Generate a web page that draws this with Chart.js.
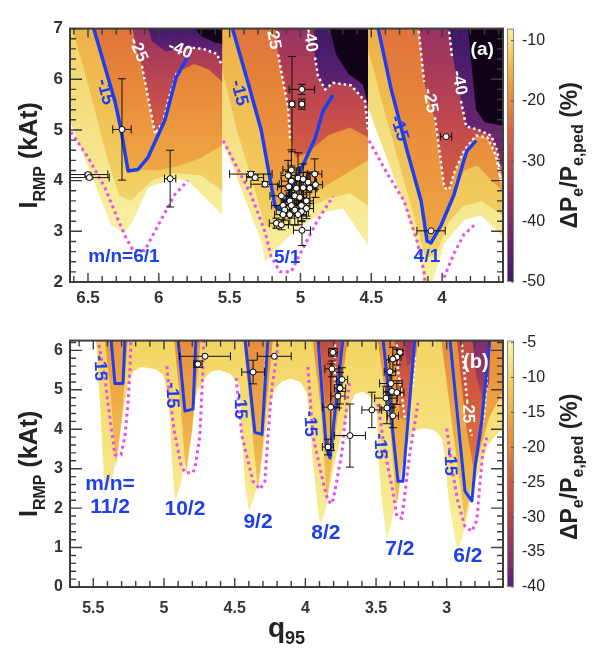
<!DOCTYPE html>
<html>
<head>
<meta charset="utf-8">
<script src="https://cdn.jsdelivr.net/npm/chart.js@4.4.1/dist/chart.umd.min.js"></script>
<style>
  body { margin: 0; background: #fff; width: 602px; height: 652px; overflow: hidden; position: relative; }
  canvas { position: absolute; left: 0; }
  #panelA { top: 0; }
  #panelB { top: 312px; }
</style>
</head>
<body>
<canvas id="panelA" width="602" height="312"></canvas>
<canvas id="panelB" width="602" height="340"></canvas>
<script>
// Reduccion de presion de pedestal vs q95 e I_RMP: panel (a) n=1, panel (b) n=2

const FONT = '"Liberation Sans", Arial, Helvetica, sans-serif';
const BLUE = '#1d3fee';
const MAGENTA = '#e84fe6';

// ---------- panel (a) ----------
const qRangeA = [3.57, 6.627];
const iRangeA = [2, 7];
const xTicksA = [6.5, 6, 5.5, 5, 4.5, 4];
const yTicksA = [2, 3, 4, 5, 6, 7];
const cbRangeA = [-50, -8];
const cbTicksA = [-10, -20, -30, -40, -50];

// contour regions, [q95, I_RMP]
const out61 = [[6.7,7.1],[5.553,7.1],[5.553,3.33],[5.794,4.0],[5.914,4.04],[6.076,3.86],[6.18,3.23],[6.24,2.96],[6.337,3.12],[6.7,5.7]];
const out51 = [[5.553,7.1],[4.523,7.1],[4.523,2.72],[4.699,3.45],[4.826,3.38],[4.996,3.12],[5.137,2.75],[5.25,2.39],[5.278,2.81],[5.553,4.83]];
const out41 = [[4.523,7.1],[3.5,7.1],[3.5,2.85],[3.57,2.9],[3.725,3.31],[3.845,3.23],[3.986,2.75],[4.078,1.9],[4.127,1.9],[4.162,2.57],[4.247,3.36],[4.41,4.59],[4.523,5.44]];
const b12_61 = [[6.62,7.1],[6.5,5.9],[6.36,4.4],[6.28,3.7],[6.2,3.6],[6.05,4.0],[5.9,4.15],[5.7,4.1],[5.553,3.8],[5.553,7.1]];
const b12_51 = [[5.553,7.1],[5.553,6.2],[5.45,5.0],[5.33,3.9],[5.25,3.1],[5.15,3.05],[5.0,3.4],[4.8,3.65],[4.65,3.75],[4.523,3.5],[4.523,7.1]];
const b12_41 = [[4.523,7.1],[4.523,6.6],[4.42,5.5],[4.3,4.3],[4.2,3.3],[4.12,2.5],[4.05,2.5],[3.95,3.2],[3.85,3.5],[3.72,3.6],[3.57,3.3],[3.5,3.3],[3.5,7.1]];
const b15_61 = [[6.47,7.1],[6.31,5.57],[6.267,5.01],[6.217,4.19],[6.147,4.22],[6.0,4.2],[5.85,4.3],[5.7,4.45],[5.553,4.7],[5.553,7.1]];
const b15_51 = [[5.49,7.1],[5.37,5.93],[5.278,5.01],[5.179,3.49],[5.137,3.42],[5.0,3.6],[4.85,3.85],[4.7,4.1],[4.523,4.4],[4.523,7.1]];
const b15_41 = [[4.459,7.1],[4.36,5.81],[4.247,4.59],[4.148,3.6],[4.106,2.81],[4.078,2.77],[4.007,3.12],[3.915,3.73],[3.845,4.2],[3.75,4.3],[3.65,4.0],[3.5,3.6],[3.5,7.1]];
const b25_61 = [[6.19,7.1],[6.16,6.6],[6.119,6.26],[6.062,5.44],[6.027,4.92],[5.97,5.16],[5.92,5.71],[5.871,6.14],[5.75,6.3],[5.65,6.2],[5.553,5.95],[5.553,7.1]];
const b25_51 = [[5.18,7.1],[5.158,6.49],[5.087,5.44],[5.073,4.83],[5.03,4.45],[4.95,4.55],[4.8,4.9],[4.65,5.05],[4.523,4.85],[4.523,7.1]];
const b25_41 = [[4.165,7.1],[4.127,5.93],[4.056,5.25],[3.985,3.86],[3.95,3.82],[3.915,4.15],[3.845,4.59],[3.76,4.89],[3.68,4.85],[3.62,4.5],[3.585,4.0],[3.5,3.9],[3.5,7.1]];
const b40_61 = [[6.08,7.1],[6.05,6.75],[5.95,6.55],[5.85,6.6],[5.80,6.63],[5.687,6.6],[5.59,6.5],[5.553,6.26],[5.553,7.1]];
const b40_51 = [[4.91,7.1],[4.897,6.43],[4.876,6.06],[4.826,5.8],[4.77,5.93],[4.643,5.88],[4.544,5.57],[4.523,5.01],[4.523,7.1]];
const b40_41 = [[3.96,7.1],[3.95,6.94],[3.915,6.3],[3.866,5.57],[3.83,5.07],[3.753,5.01],[3.654,4.89],[3.61,4.59],[3.59,4.3],[3.5,4.2],[3.5,7.1]];
const blk61 = [[5.78,7.1],[5.70,6.85],[5.6,6.72],[5.553,6.7],[5.553,7.1]];
const blk51 = [[4.80,7.1],[4.75,6.5],[4.66,6.1],[4.56,5.9],[4.523,5.5],[4.523,7.1]];
const blk41 = [[3.82,7.1],[3.79,6.2],[3.76,5.4],[3.70,5.15],[3.5,5.05],[3.5,7.1]];

// contour lines
const blue61 = [[6.47,7.1],[6.31,5.57],[6.267,5.01],[6.217,4.19],[6.147,4.22],[6.076,4.46],[5.956,5.2],[5.878,6.03],[5.794,6.45]];
const blue51 = [[5.49,7.1],[5.37,5.93],[5.278,5.01],[5.179,3.49],[5.137,3.42],[4.996,4.22],[4.897,4.83],[4.84,5.38],[4.77,5.69]];
const blue41 = [[4.459,7.1],[4.36,5.81],[4.247,4.59],[4.148,3.6],[4.106,2.81],[4.078,2.77],[4.007,3.12],[3.915,3.73],[3.845,4.41],[3.824,4.59],[3.76,4.79]];
const mag61 = [[6.62,4.96],[6.50,4.46],[6.38,3.86],[6.288,3.23],[6.23,2.86],[6.18,2.62],[6.10,2.62],[5.984,3.23],[5.886,3.73],[5.794,4.0]];
const mag51 = [[5.546,4.79],[5.44,4.22],[5.35,3.73],[5.25,2.99],[5.207,2.5],[5.144,2.2],[5.066,2.2],[4.967,2.75],[4.876,3.23],[4.77,3.69]];
const mag41 = [[4.516,4.79],[4.39,4.15],[4.268,3.6],[4.177,2.81],[4.127,2.2],[4.115,1.8],[4.0,1.8],[3.999,2.0],[3.915,2.57],[3.845,2.94],[3.774,3.12]];
const w25_61 = [[6.119,6.26],[6.062,5.44],[6.027,4.92],[5.97,5.16],[5.92,5.71],[5.871,6.14]];
const w40_61 = [[5.80,6.63],[5.687,6.6],[5.59,6.5],[5.553,6.26]];
const w25_51 = [[5.158,6.49],[5.087,5.44],[5.073,4.83]];
const w40_51 = [[4.897,6.43],[4.876,6.06],[4.826,5.8],[4.77,5.93],[4.643,5.88],[4.544,5.57],[4.523,5.01]];
const w25_41a = [[4.165,6.95],[4.127,5.95]];
const w25_41b = [[4.05,5.25],[3.985,3.86],[3.95,3.82],[3.915,4.15],[3.845,4.59],[3.76,4.89],[3.68,4.85],[3.62,4.5],[3.585,4.0]];
const w40_41a = [[3.95,6.94],[3.93,6.45]];
const w40_41b = [[3.866,5.57],[3.83,5.07],[3.753,5.01],[3.654,4.89],[3.61,4.59],[3.584,3.97]];

// measurements [q95, I_RMP, dq, dI]
const shots61 = [[6.26,5.01,0.065,1.0],[6.50,4.12,0.14,0.03],[6.49,4.06,0.14,0.03],[5.92,4.04,0.04,0.56]];
const shots51 = [
  [4.99,5.80,0.09,0.1],[5.06,5.51,0.02,0.94],[4.99,5.51,0.02,0.1],
  [5.35,4.13,0.15,0.05],[5.32,4.06,0.06,0.05],[5.25,3.93,0.1,0.05],
  [5.064,4.21,0.06,0.4],[5.087,4.10,0.05,0.3],[5.017,4.05,0.06,0.5],[4.981,4.03,0.05,0.3],
  [5.064,3.99,0.07,0.3],[4.946,3.97,0.06,0.2],[4.899,4.13,0.05,0.3],[4.894,3.92,0.05,0.25],
  [5.082,3.88,0.08,0.3],[5.029,3.85,0.05,0.4],[4.981,3.86,0.06,0.3],[4.934,3.85,0.05,0.3],
  [5.135,3.70,0.08,0.2],[5.04,3.70,0.06,0.3],[5.005,3.67,0.05,0.35],[5.075,3.60,0.06,0.3],
  [4.958,3.60,0.05,0.3],[5.123,3.51,0.08,0.2],[5.064,3.51,0.06,0.25],[4.993,3.51,0.06,0.3],
  [4.958,3.45,0.05,0.2],[5.111,3.42,0.06,0.2],[5.04,3.42,0.06,0.3],[4.993,3.39,0.05,0.2],
  [5.123,3.33,0.06,0.2],[5.075,3.33,0.05,0.2],[5.017,3.33,0.06,0.2],[5.17,3.16,0.05,0.1],
  [5.135,3.13,0.05,0.1],[4.989,3.02,0.06,0.3]
];
const shots41 = [[3.972,4.87,0.04,0],[4.078,3.01,0.1,0]];

// ---------- panel (b) ----------
const qRangeB = [2.602, 5.665];
const iRangeB = [0, 6.248];
const xTicksB = [5.5, 5, 4.5, 4, 3.5, 3];
const yTicksB = [0, 1, 2, 3, 4, 5, 6];
const cbRangeB = [-40, -4.72];
const cbTicksB = [-5, -10, -15, -20, -25, -30, -35, -40];

const outB = [[5.481,6.3],[2.55,6.3],[2.55,4.05],
  [2.638,3.92],[2.709,3.6],[2.751,3.17],[2.801,2.6],[2.85,1.86],[2.893,1.19],[2.928,0.94],
  [2.956,1.54],[2.992,2.36],[3.006,3.17],[3.034,3.77],[3.084,3.97],[3.154,4.02],[3.204,4.0],
  [3.246,3.92],[3.296,3.42],[3.345,2.6],[3.388,1.69],[3.423,1.19],[3.459,2.18],[3.487,3.42],[3.494,4.41],
  [3.53,4.79],[3.593,4.96],[3.65,4.88],[3.685,4.6],[3.734,4.0],[3.777,3.42],[3.826,2.6],[3.862,1.86],[3.897,1.61],
  [3.918,2.18],[3.954,3.42],[3.968,4.26],[3.989,4.91],[4.038,5.21],[4.109,5.28],[4.166,5.21],
  [4.215,5.03],[4.25,4.66],[4.286,3.84],[4.321,2.85],[4.371,2.18],[4.399,1.93],
  [4.427,2.6],[4.449,3.84],[4.463,5.08],[4.484,5.21],[4.533,5.41],[4.604,5.5],[4.66,5.47],[4.70,5.35],
  [4.76,5.01],[4.81,4.26],[4.852,3.17],[4.887,2.53],[4.922,2.18],
  [4.944,3.17],[4.958,4.26],[4.979,5.01],[5.007,5.38],[5.064,5.53],[5.163,5.58],[5.22,5.46],
  [5.255,5.16],[5.29,4.41],[5.326,3.6],[5.361,2.85],[5.396,2.53],[5.417,2.43],
  [5.432,3.17],[5.453,4.66]];
const o112 = [[5.42,6.3],[5.38,5.0],[5.34,3.03],[5.30,4.2],[5.255,6.3]];
const o102 = [[4.93,6.3],[4.88,4.5],[4.845,2.85],[4.80,4.0],[4.74,6.3]];
const o92 = [[4.44,6.3],[4.39,4.5],[4.335,2.43],[4.29,4.0],[4.23,6.3]];
const o82 = [[3.95,6.3],[3.89,4.5],[3.847,2.18],[3.79,3.8],[3.70,6.3]];
const o72 = [[3.49,6.3],[3.40,4.0],[3.353,2.03],[3.29,3.8],[3.20,6.3]];
const o62 = [[3.04,6.3],[2.95,3.8],[2.872,1.69],[2.80,3.0],[2.70,4.3],[2.55,5.3],[2.55,6.3]];
const r82 = [[3.90,6.3],[3.86,4.6],[3.80,4.5],[3.74,6.3]];
const r72 = [[3.37,6.3],[3.33,4.3],[3.27,4.2],[3.225,6.3]];
const r62 = [[2.93,6.3],[2.86,4.0],[2.80,2.8],[2.75,3.9],[2.70,6.3]];
const p72 = [[3.31,6.3],[3.28,5.6],[3.24,5.7],[3.235,6.3]];
const p62 = [[2.82,6.3],[2.79,5.3],[2.74,4.7],[2.70,5.2],[2.69,6.3]];

const blue112 = [[5.375,6.3],[5.347,5.16],[5.29,5.16],[5.276,6.3]];
const blue102 = [[4.901,6.3],[4.852,4.46],[4.795,4.51],[4.774,6.3]];
const blue92 = [[4.427,6.3],[4.357,3.92],[4.307,3.87],[4.265,6.3]];
const blue82 = [[3.911,6.3],[3.852,3.52],[3.826,3.27],[3.734,6.3]];
const blue72 = [[3.451,6.3],[3.345,2.68],[3.31,2.68],[3.225,6.3]];
const blue62 = [[2.978,6.3],[2.871,2.43],[2.822,2.18],[2.80,3.03],[2.751,4.26],[2.695,6.3]];
const mag112 = [[5.467,6.3],[5.417,5.26],[5.382,4.26],[5.347,3.35],[5.304,3.35],[5.276,3.84],[5.255,4.66],[5.241,5.5],[5.234,6.3]];
const mag102 = [[4.98,5.6],[4.965,5.0],[4.93,4.0],[4.88,3.1],[4.852,2.9],[4.795,2.9],[4.78,3.03],[4.746,3.84],[4.725,5.5],[4.72,6.3]];
const mag92 = [[4.49,5.3],[4.449,3.84],[4.371,2.68],[4.321,2.48],[4.286,2.68],[4.265,3.84],[4.236,5.08],[4.201,5.9],[4.194,6.3]];
const mag82 = [[3.982,5.58],[3.947,3.84],[3.876,2.68],[3.84,2.18],[3.812,2.11],[3.791,2.43],[3.741,3.42],[3.706,4.66],[3.685,5.26]];
const mag72 = [[3.487,4.64],[3.437,3.42],[3.381,2.43],[3.353,1.79],[3.317,1.74],[3.296,2.36],[3.261,3.42],[3.225,4.17],[3.204,4.66]];
const mag62 = [[3.0,4.02],[2.964,3.03],[2.922,2.18],[2.872,1.54],[2.822,1.41],[2.787,1.69],[2.766,2.6],[2.744,3.42],[2.716,3.79]];
const w92 = [[4.272,6.07],[4.286,5.41]];
const w82 = [[3.791,6.15],[3.791,5.08]];
const w72a = [[3.353,6.15],[3.345,5.5],[3.317,4.84],[3.296,4.26]];
const w72b = [[3.225,5.83],[3.24,5.08]];
const w62a = [[2.893,6.15],[2.871,5.26],[2.858,4.84]];
const w62b = [[2.836,4.0],[2.822,3.84]];
const w62c = [[2.716,5.33],[2.73,4.59],[2.74,4.2]];

const shots102 = [[4.71,5.85,0.18,0],[4.76,5.65,0.03,0.08]];
const shots92 = [[4.22,5.85,0.12,0],[4.37,5.45,0.08,0.3]];
const shots82 = [[3.805,5.95,0.03,0.1],[3.812,5.53,0.05,0.2],[3.741,5.26,0.04,0.3],[3.755,5.04,0.04,0.4],
  [3.77,4.84,0.05,0.3],[3.82,4.56,0.06,1.1],[3.84,3.55,0.04,0.2],[3.685,3.84,0.11,0.8]];
const shots72 = [[3.331,5.95,0.02,0.05],[3.353,5.83,0.03,0.2],[3.381,5.78,0.03,0.3],[3.402,5.46,0.04,0.3],
  [3.395,5.16,0.08,0.3],[3.388,4.96,0.06,0.4],[3.353,4.93,0.05,0.3],[3.43,4.79,0.08,0.3],
  [3.423,4.54,0.05,0.4],[3.381,4.34,0.04,0.3],[3.53,4.49,0.07,0.45]];

// colour maps of the two colour bars [value, colour]
const cmapA = [[-56,'#120418'],[-50,'#3a1868'],[-45,'#5e2170'],[-40,'#862b68'],[-35,'#a83a5a'],[-30,'#c44c4c'],
  [-25,'#d9643c'],[-20,'#e8883a'],[-15,'#efb048'],[-12,'#f2cd60'],[-8,'#f7f1a2']];
const cmapB = [[-40,'#5a2278'],[-35,'#8e3266'],[-30,'#b4454f'],[-25,'#d05a40'],[-20,'#e5843a'],
  [-15,'#eeac45'],[-10,'#f3d462'],[-5,'#f8f4a6']];

// text on the plots [text, q95, I_RMP, rotation deg, colour, size]
const notesA = [
  ['m/n=6/1', 6.246, 2.50, 0, BLUE, 19], ['5/1', 5.094, 2.48, 0, BLUE, 19], ['4/1', 4.106, 2.50, 0, BLUE, 19],
  ['-15', 6.38, 5.75, 76, BLUE, 18], ['-15', 5.434, 5.73, 76, BLUE, 18], ['-15', 4.304, 5.03, 72, BLUE, 18],
  ['-25', 6.147, 6.58, 66, '#fff', 17], ['-25', 5.193, 6.83, 80, '#fff', 17], ['-25', 4.085, 5.58, 80, '#fff', 17],
  ['-40', 5.85, 6.58, 22, '#fff', 17], ['-40', 4.932, 6.78, 82, '#fff', 17], ['-40', 3.88, 5.93, 80, '#fff', 17],
  ['(a)', 3.717, 6.58, 0, '#fff', 19]
];
const notesB = [
  ['m/n=', 5.382, 2.60, 0, BLUE, 21], ['11/2', 5.382, 2.03, 0, BLUE, 21], ['10/2', 4.852, 1.98, 0, BLUE, 21],
  ['9/2', 4.335, 1.64, 0, BLUE, 21], ['8/2', 3.855, 1.36, 0, BLUE, 21], ['7/2', 3.331, 0.97, 0, BLUE, 21],
  ['6/2', 2.85, 0.77, 0, BLUE, 21],
  ['-15', 5.453, 5.55, 88, BLUE, 18], ['-15', 4.944, 4.86, 88, BLUE, 18], ['-15', 4.463, 4.59, 88, BLUE, 18],
  ['-15', 3.968, 4.14, 88, BLUE, 18], ['-15', 3.473, 3.57, 88, BLUE, 18], ['-15', 2.978, 3.15, 88, BLUE, 18],
  ['-25', 2.85, 4.46, 88, '#fff', 17], ['(b)', 2.794, 5.70, 0, '#fff', 20]
];

// ---------- helpers ----------
const toXY = arr => arr.map(([x, y]) => ({x, y}));

function hexRgb(h) { return [1, 3, 5].map(i => parseInt(h.slice(i, i + 2), 16)); }

function colorAt(stops, v) {
  if (v <= stops[0][0]) return stops[0][1];
  for (let i = 1; i < stops.length; i++) {
    if (v <= stops[i][0]) {
      const [v0, c0] = stops[i - 1], [v1, c1] = stops[i];
      const t = (v - v0) / (v1 - v0), a = hexRgb(c0), b = hexRgb(c1);
      return 'rgb(' + a.map((c, k) => Math.round(c + (b[k] - c) * t)).join(',') + ')';
    }
  }
  return stops[stops.length - 1][1];
}

function shade(chart, poly, stops, vA, vB, axis) {
  const {x, y} = chart.scales;
  if (!chart.chartArea || !x || !y) return colorAt(stops, vA);
  const px = poly.map(p => x.getPixelForValue(p[0]));
  const py = poly.map(p => y.getPixelForValue(p[1]));
  const g = axis === 'x'
    ? chart.ctx.createLinearGradient(Math.min(...px), 0, Math.max(...px), 0)
    : chart.ctx.createLinearGradient(0, Math.max(...py), 0, Math.min(...py));
  for (let i = 0; i <= 10; i++) g.addColorStop(i / 10, colorAt(stops, vA + (vB - vA) * i / 10));
  return g;
}

function band(poly, stops, vA, vB, axis, order) {
  return {
    data: toXY(poly), xAxisID: 'x', yAxisID: 'y', fill: 'shape', showLine: true, tension: 0,
    pointRadius: 0, borderWidth: 0, borderColor: 'rgba(0,0,0,0)', order,
    backgroundColor: c => shade(c.chart, poly, stops, vA, vB, axis)
  };
}

function curve(line, color, width, dash, order) {
  return {
    data: toXY(line), xAxisID: 'x', yAxisID: 'y', fill: false, showLine: true, tension: 0,
    pointRadius: 0, borderColor: color, borderWidth: width, borderDash: dash,
    borderCapStyle: 'butt', borderJoinStyle: 'round', order
  };
}

function shots(list, order) {
  return {
    data: list.map(([x, y, ex, ey]) => ({x, y, ex, ey})), xAxisID: 'x', yAxisID: 'y',
    showLine: false, fill: false, pointRadius: 3, pointBackgroundColor: '#fff',
    pointBorderColor: '#000', pointBorderWidth: 1, order, errorBars: true
  };
}

function richText(ctx, parts, x, y, rot) {
  ctx.save();
  ctx.translate(x, y);
  ctx.rotate(rot);
  ctx.textAlign = 'left';
  ctx.textBaseline = 'alphabetic';
  let w = 0;
  parts.forEach(p => { ctx.font = `bold ${p[1]}px ${FONT}`; w += ctx.measureText(p[0]).width; });
  let cx = -w / 2;
  parts.forEach(p => {
    ctx.font = `bold ${p[1]}px ${FONT}`;
    ctx.fillText(p[0], cx, p[2]);
    cx += ctx.measureText(p[0]).width;
  });
  ctx.restore();
}

// ---------- plugins ----------
const errorBars = {
  id: 'errorBars',
  beforeDatasetDraw(chart, args) {
    const ds = chart.data.datasets[args.index];
    if (!ds.errorBars) return;
    const {ctx, chartArea: a} = chart;
    const {x, y} = chart.scales;
    ctx.save();
    ctx.beginPath();
    ctx.rect(a.left, a.top, a.width, a.height);
    ctx.clip();
    ctx.strokeStyle = '#111';
    ctx.lineWidth = 1;
    ctx.beginPath();
    ds.data.forEach(p => {
      const cx = x.getPixelForValue(p.x), cy = y.getPixelForValue(p.y);
      if (p.ex) {
        const l = x.getPixelForValue(p.x + p.ex), r = x.getPixelForValue(p.x - p.ex);
        ctx.moveTo(l, cy); ctx.lineTo(r, cy);
        ctx.moveTo(l, cy - 4); ctx.lineTo(l, cy + 4);
        ctx.moveTo(r, cy - 4); ctx.lineTo(r, cy + 4);
      }
      if (p.ey) {
        const t = y.getPixelForValue(p.y + p.ey), b = y.getPixelForValue(p.y - p.ey);
        ctx.moveTo(cx, t); ctx.lineTo(cx, b);
        ctx.moveTo(cx - 4, t); ctx.lineTo(cx + 4, t);
        ctx.moveTo(cx - 4, b); ctx.lineTo(cx + 4, b);
      }
    });
    ctx.stroke();
    ctx.restore();
  }
};

const notes = {
  id: 'notes',
  afterDatasetsDraw(chart, args, o) {
    const {ctx, chartArea: a} = chart;
    const {x, y} = chart.scales;
    ctx.save();
    ctx.beginPath();
    ctx.rect(a.left, a.top, a.width, a.height);
    ctx.clip();
    ctx.textAlign = 'center';
    ctx.textBaseline = 'middle';
    o.list.forEach(([txt, q, i, rot, color, size]) => {
      ctx.save();
      ctx.translate(x.getPixelForValue(q), y.getPixelForValue(i));
      ctx.rotate(rot * Math.PI / 180);
      ctx.font = `bold ${size}px ${FONT}`;
      ctx.fillStyle = color;
      ctx.fillText(txt, 0, 0);
      ctx.restore();
    });
    ctx.restore();
  }
};

const frame = {
  id: 'frame',
  afterDraw(chart) {
    const {ctx, chartArea: a} = chart;
    const {x, y} = chart.scales;
    ctx.save();
    ctx.strokeStyle = '#3c3c3c';
    ctx.lineWidth = 1.4;
    ctx.beginPath();
    const lo = Math.min(x.min, x.max), hi = Math.max(x.min, x.max);
    for (let k = Math.ceil(lo * 10 - 1e-6); k <= Math.floor(hi * 10 + 1e-6); k++) {
      const px = x.getPixelForValue(k / 10);
      const len = k % 5 === 0 ? 9 : 6;
      ctx.moveTo(px, a.bottom); ctx.lineTo(px, a.bottom - len);
      ctx.moveTo(px, a.top); ctx.lineTo(px, a.top + len);
    }
    for (let k = Math.ceil(y.min * 5 - 1e-6); k <= Math.floor(y.max * 5 + 1e-6); k++) {
      const py = y.getPixelForValue(k / 5);
      const len = k % 5 === 0 ? 12 : 6;
      ctx.moveTo(a.left, py); ctx.lineTo(a.left + len, py);
      ctx.moveTo(a.right, py); ctx.lineTo(a.right - len, py);
    }
    ctx.stroke();
    ctx.lineWidth = 2;
    ctx.strokeRect(a.left, a.top, a.width, a.height);
    ctx.restore();
  }
};

const colorbar = {
  id: 'colorbar',
  afterDraw(chart, args, o) {
    const {ctx, chartArea: a} = chart;
    const cb = chart.scales.cb;
    const x0 = a.right + 4, w = 7;
    const g = ctx.createLinearGradient(0, a.bottom, 0, a.top);
    o.stops.forEach(([v, c]) => {
      const t = (v - cb.min) / (cb.max - cb.min);
      if (t >= 0 && t <= 1) g.addColorStop(t, c);
    });
    g.addColorStop(1, colorAt(o.stops, cb.max));
    ctx.save();
    ctx.fillStyle = g;
    ctx.fillRect(x0, a.top, w, a.height);
    ctx.strokeStyle = '#888';
    ctx.lineWidth = 1;
    ctx.strokeRect(x0 + 0.5, a.top + 0.5, w - 1, a.height - 1);
    ctx.strokeStyle = '#555';
    ctx.beginPath();
    cb.ticks.forEach(t => {
      const py = cb.getPixelForValue(t.value);
      ctx.moveTo(x0 + w - 3, py); ctx.lineTo(x0 + w, py);
    });
    ctx.stroke();
    ctx.fillStyle = '#222';
    const cy = (a.top + a.bottom) / 2 + o.shift;
    richText(ctx, [['ΔP', 23, 0], ['e', 16, 6], ['/P', 23, 0], ['e,ped', 16, 6], [' (%)', 23, 0]], 577, cy, -Math.PI / 2);
    richText(ctx, [['I', 25, 0], ['RMP', 16, 8], [' (kAt)', 25, 0]], 37, (a.top + a.bottom) / 2, -Math.PI / 2);
    if (o.xTitleY) richText(ctx, [['q', 28, 0], ['95', 18, 7]], (a.left + a.right) / 2, o.xTitleY, 0);
    ctx.restore();
  }
};

function axes(qr, ir, cbr, xt, yt, ct, xh, xpad, fs) {
  const tickFont = {family: FONT, size: fs, weight: 'bold'};
  const setTicks = list => s => { s.ticks = list.map(v => ({value: v})); };
  return {
    x: {
      type: 'linear', min: qr[0], max: qr[1], reverse: true,
      afterBuildTicks: setTicks(xt), afterFit: s => { s.height = xh; },
      grid: {display: false, drawTicks: false}, border: {display: false},
      ticks: {padding: xpad, color: '#333', font: tickFont, maxRotation: 0, autoSkip: false, callback: v => String(v)}
    },
    y: {
      type: 'linear', position: 'left', min: ir[0], max: ir[1],
      afterBuildTicks: setTicks(yt), afterFit: s => { s.width = 70; },
      grid: {display: false, drawTicks: false}, border: {display: false},
      ticks: {padding: 7, color: '#333', font: tickFont, autoSkip: false, callback: v => String(v)}
    },
    cb: {
      type: 'linear', axis: 'y', position: 'right', min: cbr[0], max: cbr[1],
      afterBuildTicks: setTicks(ct), afterFit: s => { s.width = 99; },
      grid: {display: false, drawTicks: false}, border: {display: false},
      ticks: {padding: 19, color: '#222', font: {family: FONT, size: 16}, autoSkip: false, callback: v => String(v)}
    }
  };
}

function makeChart(id, datasets, scales, padTop, noteList, cbOpts) {
  return new Chart(document.getElementById(id), {
    type: 'line',
    data: {datasets},
    options: {
      responsive: false, animation: false, devicePixelRatio: 1, events: [],
      layout: {padding: {top: padTop, left: 0, right: 0, bottom: 0}, autoPadding: false},
      plugins: {legend: {display: false}, tooltip: {enabled: false}, notes: {list: noteList}, colorbar: cbOpts},
      scales
    },
    plugins: [errorBars, notes, frame, colorbar]
  });
}

// ---------- panel (a) ----------
const setsA = [
  band(out61, cmapA, -8, -11.5, 'y', 90), band(out51, cmapA, -8, -11.5, 'y', 90), band(out41, cmapA, -8, -11.5, 'y', 90),
  band(b12_61, cmapA, -11.5, -15, 'y', 85), band(b12_51, cmapA, -11.5, -15, 'y', 85), band(b12_41, cmapA, -11.5, -15, 'y', 85),
  band(b15_61, cmapA, -16, -23, 'y', 80), band(b15_51, cmapA, -16, -23, 'y', 80), band(b15_41, cmapA, -16, -23, 'y', 80),
  band(b25_61, cmapA, -26, -38, 'y', 70), band(b25_51, cmapA, -26, -38, 'y', 70), band(b25_41, cmapA, -26, -38, 'y', 70),
  band(b40_61, cmapA, -41, -50, 'y', 60), band(b40_51, cmapA, -41, -50, 'y', 60), band(b40_41, cmapA, -41, -50, 'y', 60),
  band(blk61, cmapA, -56, -56, 'y', 50), band(blk51, cmapA, -56, -56, 'y', 50), band(blk41, cmapA, -56, -56, 'y', 50),
  curve(mag61, MAGENTA, 3, [3, 3.5], 30), curve(mag51, MAGENTA, 3, [3, 3.5], 30), curve(mag41, MAGENTA, 3, [3, 3.5], 30),
  curve(w25_61, '#fff', 2.5, [2.5, 3], 30), curve(w40_61, '#fff', 2.5, [2.5, 3], 30),
  curve(w25_51, '#fff', 2.5, [2.5, 3], 30), curve(w40_51, '#fff', 2.5, [2.5, 3], 30),
  curve(w25_41a, '#fff', 2.5, [2.5, 3], 30), curve(w25_41b, '#fff', 2.5, [2.5, 3], 30),
  curve(w40_41a, '#fff', 2.5, [2.5, 3], 30), curve(w40_41b, '#fff', 2.5, [2.5, 3], 30),
  curve(blue61, BLUE, 3.5, [], 20), curve(blue51, BLUE, 3.5, [], 20), curve(blue41, BLUE, 3.5, [], 20),
  shots(shots61, 10), shots(shots51, 10), shots(shots41, 10)
];
makeChart('panelA', setsA,
  axes(qRangeA, iRangeA, cbRangeA, xTicksA, yTicksA, cbTicksA, 30, 6, 17),
  10, notesA, {stops: cmapA, shift: 0});

// ---------- panel (b) ----------
const setsB = [
  band(outB, cmapB, -5.5, -10, 'y', 90),
  band(o112, cmapB, -12, -18, 'y', 80), band(o102, cmapB, -12, -19, 'y', 80), band(o92, cmapB, -12, -19, 'y', 80),
  band(o82, cmapB, -12, -19, 'y', 80), band(o72, cmapB, -12, -19, 'y', 80), band(o62, cmapB, -12, -19, 'y', 80),
  band(r82, cmapB, -21, -28, 'y', 70), band(r72, cmapB, -21, -29, 'y', 70), band(r62, cmapB, -21, -28, 'y', 70),
  band(p72, cmapB, -31, -34, 'y', 60), band(p62, cmapB, -30, -37, 'y', 60),
  curve(mag112, MAGENTA, 3, [3, 3.5], 30), curve(mag102, MAGENTA, 3, [3, 3.5], 30), curve(mag92, MAGENTA, 3, [3, 3.5], 30),
  curve(mag82, MAGENTA, 3, [3, 3.5], 30), curve(mag72, MAGENTA, 3, [3, 3.5], 30), curve(mag62, MAGENTA, 3, [3, 3.5], 30),
  curve(w92, '#fff', 2.5, [2.5, 3], 30), curve(w82, '#fff', 2.5, [2.5, 3], 30), curve(w72a, '#fff', 2.5, [2.5, 3], 30),
  curve(w72b, '#fff', 2.5, [2.5, 3], 30), curve(w62a, '#fff', 2.5, [2.5, 3], 30), curve(w62b, '#fff', 2.5, [2.5, 3], 30),
  curve(w62c, '#fff', 2.5, [2.5, 3], 30),
  curve(blue112, BLUE, 3, [], 20), curve(blue102, BLUE, 3, [], 20), curve(blue92, BLUE, 3, [], 20),
  curve(blue82, BLUE, 3, [], 20), curve(blue72, BLUE, 3, [], 20), curve(blue62, BLUE, 3, [], 20),
  shots(shots102, 10), shots(shots92, 10), shots(shots82, 10), shots(shots72, 10)
];
makeChart('panelB', setsB,
  axes(qRangeB, iRangeB, cbRangeB, xTicksB, yTicksB, cbTicksB, 65, 12, 16),
  23, notesB, {stops: cmapB, shift: 3, xTitleY: 325});
</script>
</body>
</html>
